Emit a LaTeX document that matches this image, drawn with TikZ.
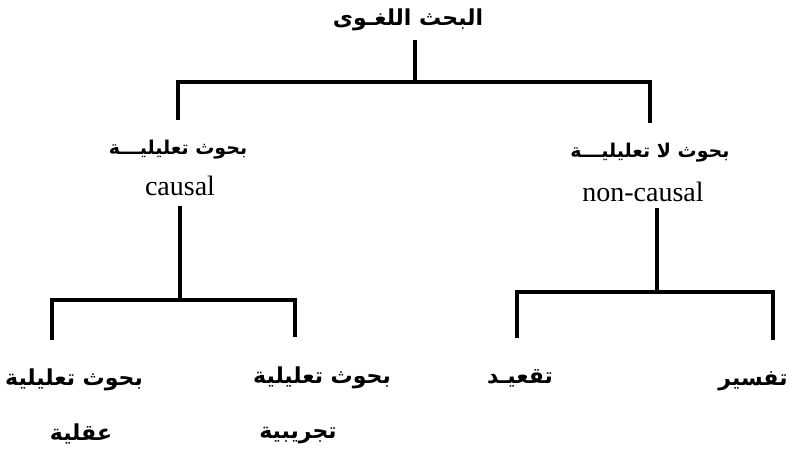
\documentclass[tikz,border=0pt]{standalone}
\usepackage{fontspec}
\setmainfont{Liberation Serif}
\newfontfamily\arabicfont[Script=Arabic]{DejaVu Sans}
\TeXXeTstate=1
\usetikzlibrary{positioning}

\newcommand{\artext}[1]{\beginR #1\endR}

\begin{document}
\begin{tikzpicture}
  [
    x=1pt, y=-1pt,
    arlabel/.style={font=\arabicfont\bfseries\fontsize{22}{26}\selectfont, inner sep=0pt},
    arhead/.style={font=\arabicfont\bfseries\fontsize{19}{22}\selectfont, inner sep=0pt},
    enlabel/.style={font=\fontsize{28}{32}\selectfont, inner sep=0pt},
    branch/.style={draw=black, line width=3.2pt},
    drop/.style={branch, shorten >=20pt}
  ]
  \useasboundingbox (0,0) rectangle (790,453);

  \node (root) at (408,20) [arlabel] {\artext{البحث اللغـوى}};

  \node (causalAr)    at (178,150) [arhead] {\artext{بحوث تعليليـــة}};
  \node (causal)      at (180,186) [enlabel] {causal};
  \node (noncausalAr) at (650,153) [arhead] {\artext{بحوث لا تعليليـــة}};
  \node (noncausal)   at (643,192) [enlabel] {non-causal};

  \node (aqliA)  at (74,380)  [arlabel] {\artext{بحوث تعليلية}};
  \node (aqliB)  at (81,434)  [arlabel] {\artext{عقلية}};
  \node (tajrA)  at (322,378) [arlabel] {\artext{بحوث تعليلية}};
  \node (tajrB)  at (298,436) [arlabel] {\artext{تجريبية}};
  \node (taqid)  at (520,378) [arlabel] {\artext{تقعيـد}};
  \node (tafsir) at (753,381) [arlabel] {\artext{تفسير}};

  \coordinate (j0) at (415,82);
  \coordinate (j1) at (180,300);
  \coordinate (j2) at (657,292);
  \coordinate (e1) at (52,340);
  \coordinate (e2) at (295,337);
  \coordinate (e3) at (517,338);
  \coordinate (e4) at (773,340);

  \draw [branch, shorten <=9pt] (j0 |- root.south) -- (j0);
  \draw [drop] (j0) -| (causalAr);
  \draw [drop] (j0) -| (noncausalAr);

  \draw [branch, shorten <=10pt] (causal) -- (j1);
  \draw [branch] (j1) -| (e1);
  \draw [branch] (j1) -| (e2);

  \draw [branch, shorten <=6pt] (j2 |- noncausal.south) -- (j2);
  \draw [branch] (j2) -| (e3);
  \draw [branch] (j2) -| (e4);
\end{tikzpicture}
\end{document}
